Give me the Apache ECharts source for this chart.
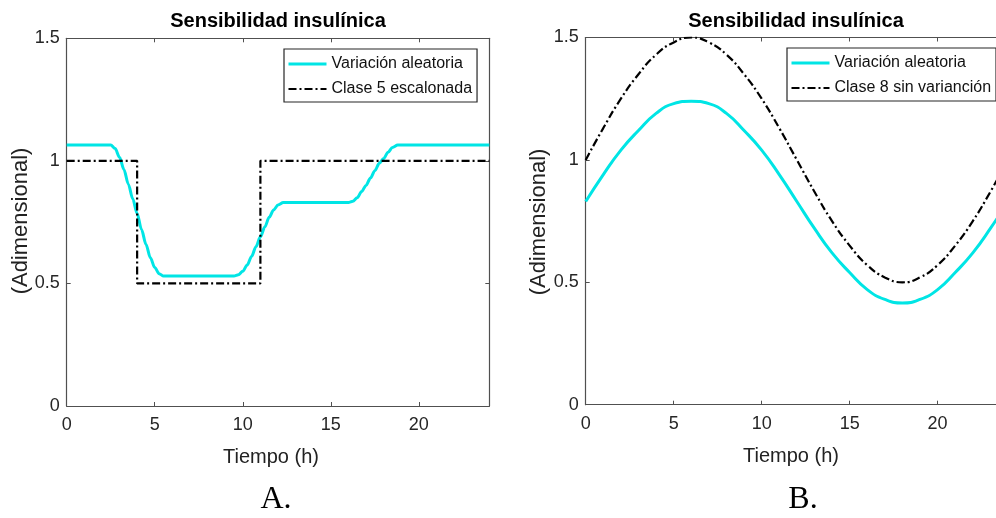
<!DOCTYPE html>
<html>
<head>
<meta charset="utf-8">
<script src="https://cdn.jsdelivr.net/npm/echarts@6/dist/echarts.min.js"></script>
<style>
html,body{margin:0;padding:0;background:#fff;}
#chart{width:996px;height:518px;}
</style>
</head>
<body>
<div id="chart"></div>
<script>
// ---------- Data ----------
const panelTitle = 'Sensibilidad insulínica';
const xLabel = 'Tiempo (h)';
const yLabel = '(Adimensional)';
const panelNames = ['A.', 'B.'];
const legendA = ['Variación aleatoria', 'Clase 5 escalonada'];
const legendB = ['Variación aleatoria', 'Clase 8 sin varianción'];

// Panel A: random variation (cyan)
const tA = [0, 2.5, 2.75, 3.0, 3.25, 3.5, 3.75, 4.0, 4.25, 4.5, 4.75, 5.0, 5.25, 5.5,
            9.5, 9.75, 10.0, 10.25, 10.5, 10.75, 11.0, 11.25, 11.5, 11.75, 12.0, 12.3,
            16.0, 16.25, 16.5, 16.75, 17.0, 17.25, 17.5, 17.75, 18.0, 18.25, 18.5, 18.8, 24];
const vA = [1.065, 1.065, 1.05, 1.015, 0.965, 0.905, 0.845, 0.785, 0.72, 0.66, 0.605, 0.565, 0.54, 0.53,
            0.53, 0.535, 0.55, 0.575, 0.61, 0.65, 0.69, 0.73, 0.77, 0.80, 0.82, 0.83,
            0.83, 0.835, 0.85, 0.875, 0.90, 0.93, 0.96, 0.99, 1.01, 1.035, 1.055, 1.065, 1.065];
// Panel A: class 5 stepped (black dash-dot)
const tStep = [0, 4, 4, 11, 11, 24];
const vStep = [1, 1, 0.5, 0.5, 1, 1];

// Panel B: hourly readings
const tB = [0,1,2,3,4,5,6,7,8,9,10,11,12,13,14,15,16,17,18,19,20,21,22,23,24];
const vBcyan = [0.83,0.94,1.04,1.12,1.19,1.23,1.24,1.23,1.19,1.12,1.04,0.94,0.83,0.72,0.62,0.54,0.47,0.43,0.415,0.43,0.47,0.54,0.62,0.72,0.83];
const vBblack = [1.0,1.13,1.25,1.35,1.43,1.48,1.5,1.48,1.43,1.35,1.25,1.13,1.0,0.87,0.75,0.65,0.57,0.52,0.5,0.52,0.57,0.65,0.75,0.87,1.0];

const xMin = 0, xMax = 24, xInterval = 5;
const yMin = 0, yMax = 1.5, yInterval = 0.5;

// ---------- Chart ----------
const zip = (a, b) => a.map((v, i) => [v, b[i]]);
const FONT = 'Liberation Sans, Arial, sans-serif';
const SERIF = 'Liberation Serif, Times New Roman, serif';
const axisCol = '#505050';
const cyan = '#00e5e5';
const dashDot = [8, 3, 2, 3];
const cyanW = 3, blackW = 2.2;

function xAxes(g) {
  const base = {
    gridIndex: g, type: 'value', min: xMin, max: xMax, interval: xInterval,
    axisLine: {show: true, onZero: false, lineStyle: {color: axisCol, width: 1.2}},
    axisTick: {show: true, inside: true, length: 4, lineStyle: {color: axisCol, width: 1}},
    splitLine: {show: false}
  };
  return [
    Object.assign({}, base, {position: 'bottom',
      axisLabel: {show: true, color: '#262626', fontSize: 18, fontFamily: FONT, margin: 10, showMaxLabel: false}}),
    Object.assign({}, base, {position: 'top', axisLabel: {show: false}})
  ];
}
function yAxes(g) {
  const base = {
    gridIndex: g, type: 'value', min: yMin, max: yMax, interval: yInterval,
    axisLine: {show: true, onZero: false, lineStyle: {color: axisCol, width: 1.2}},
    axisTick: {show: true, inside: true, length: 4, lineStyle: {color: axisCol, width: 1}},
    splitLine: {show: false}
  };
  return [
    Object.assign({}, base, {position: 'left',
      axisLabel: {show: true, color: '#262626', fontSize: 18, fontFamily: FONT, margin: 7}}),
    Object.assign({}, base, {position: 'right', axisLabel: {show: false}})
  ];
}

const legendBase = {
  orient: 'vertical', itemWidth: 38, itemHeight: 14, itemGap: 9,
  padding: [7, 5, 5, 3], borderColor: '#262626', borderWidth: 1.2,
  backgroundColor: '#fff', textStyle: {fontSize: 16, color: '#111', fontFamily: FONT},
  itemStyle: {opacity: 0, borderWidth: 0},
  selectedMode: false
};
function legendItems(names) {
  return [
    {name: names[0], lineStyle: {width: cyanW}},
    {name: names[1], lineStyle: {width: blackW}}
  ];
}

function txt(x, y, text, font, color, extra) {
  return Object.assign({
    type: 'text', x: x, y: y, silent: true,
    style: {text: text, font: font, fill: color, align: 'center', verticalAlign: 'middle'}
  }, extra || {});
}

const option = {
  animation: false,
  backgroundColor: '#fff',
  grid: [
    {left: 66.7, width: 422.6, top: 38.3, height: 367.7, containLabel: false, outerBoundsMode: 'none'},
    {left: 585.7, width: 422.3, top: 37.5, height: 367.2, containLabel: false, outerBoundsMode: 'none'}
  ],
  xAxis: [].concat(xAxes(0), xAxes(1)),
  yAxis: [].concat(yAxes(0), yAxes(1)),
  legend: [
    Object.assign({}, legendBase, {data: legendItems(legendA), left: 284, top: 49}),
    Object.assign({}, legendBase, {data: legendItems(legendB), left: 787, top: 48})
  ],
  series: [
    {name: legendA[0], type: 'line', xAxisIndex: 0, yAxisIndex: 0, data: zip(tA, vA),
     symbol: 'none', smooth: 0.3, smoothMonotone: 'x', lineStyle: {color: cyan, width: cyanW}, itemStyle: {color: cyan}},
    {name: legendA[1], type: 'line', xAxisIndex: 0, yAxisIndex: 0, data: zip(tStep, vStep),
     symbol: 'none', lineStyle: {color: '#000', width: blackW, type: dashDot}, itemStyle: {color: '#000'}},
    {name: legendB[0], type: 'line', xAxisIndex: 2, yAxisIndex: 2, data: zip(tB, vBcyan),
     symbol: 'none', smooth: true, lineStyle: {color: cyan, width: cyanW}, itemStyle: {color: cyan}},
    {name: legendB[1], type: 'line', xAxisIndex: 2, yAxisIndex: 2, data: zip(tB, vBblack),
     symbol: 'none', smooth: true, lineStyle: {color: '#000', width: blackW, type: dashDot}, itemStyle: {color: '#000'}}
  ],
  graphic: [
    txt(278, 21, panelTitle, 'bold 20px ' + FONT, '#000'),
    txt(796, 21, panelTitle, 'bold 20px ' + FONT, '#000'),
    txt(271, 457, xLabel, '20px ' + FONT, '#222'),
    txt(791, 456, xLabel, '20px ' + FONT, '#222'),
    txt(21, 221, yLabel, '22px ' + FONT, '#222', {rotation: Math.PI / 2}),
    txt(539, 222, yLabel, '22px ' + FONT, '#222', {rotation: Math.PI / 2}),
    txt(276, 500, panelNames[0], '32px ' + SERIF, '#000'),
    txt(803, 500, panelNames[1], '32px ' + SERIF, '#000')
  ]
};

const chart = echarts.init(document.getElementById('chart'), null, {renderer: 'canvas'});
chart.setOption(option);
</script>
</body>
</html>
